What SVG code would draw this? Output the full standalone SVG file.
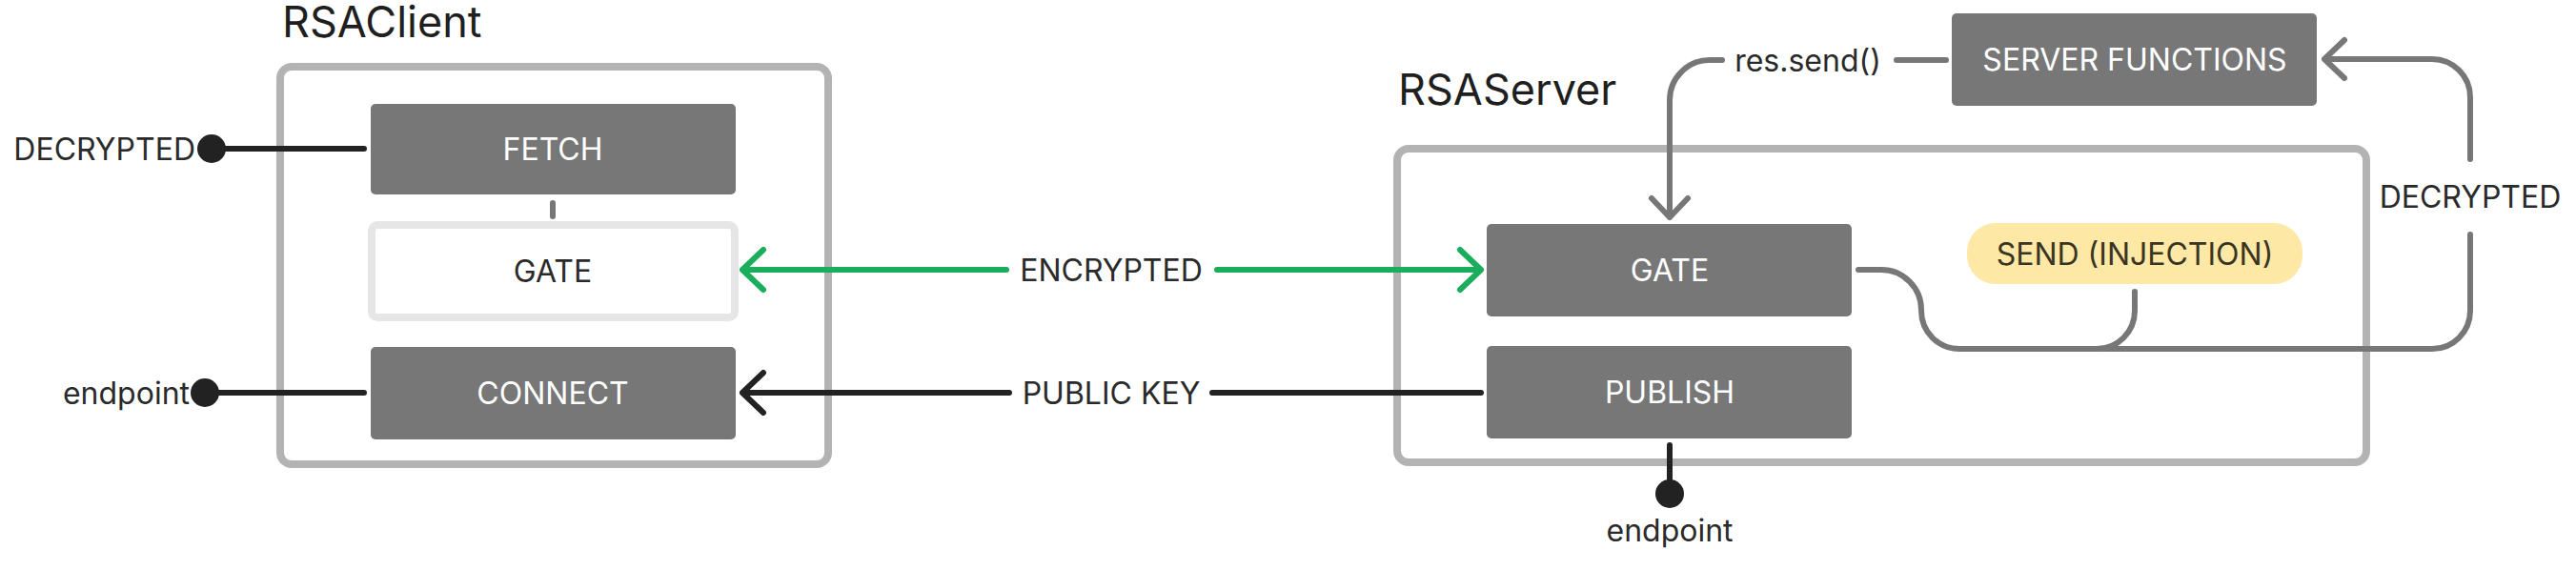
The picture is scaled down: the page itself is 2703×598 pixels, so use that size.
<svg xmlns="http://www.w3.org/2000/svg" width="2703" height="598" viewBox="0 0 2703 598">
<style>
text{font-family:Inter,"Noto Sans","Liberation Sans",sans-serif;font-size:32px;text-anchor:middle}
.title{font-size:45px;fill:#1f1f1f;text-anchor:start}
.lbl{fill:#2a2a2a}
.wt{fill:#ffffff}
.box{fill:#777777}
.cont{fill:none;stroke:#b3b3b3;stroke-width:8}
.gl{fill:none;stroke:#777777;stroke-width:6;stroke-linecap:round;stroke-linejoin:round}
.dk{fill:none;stroke:#222222;stroke-width:6;stroke-linecap:round;stroke-linejoin:round}
.gr{fill:none;stroke:#1aad5c;stroke-width:6;stroke-linecap:round;stroke-linejoin:round}
.dot{fill:#222222}
</style>
<rect width="2703" height="598" fill="#ffffff"/>
<g id="rsaclient">
<rect class="cont" x="294" y="70" width="575" height="417" rx="12"/>
<text class="title" x="296" y="39">RSAClient</text>
</g>
<g id="rsaserver">
<rect class="cont" x="1466" y="156" width="1017" height="329" rx="12"/>
<text class="title" x="1467" y="110">RSAServer</text>
</g>
<g id="fetch">
<rect class="box" x="389" y="109" width="383" height="95" rx="5"/>
<text class="wt" x="580" y="168">FETCH</text>
</g>
<g id="client-gate">
<rect x="390" y="236" width="381" height="97" rx="6" fill="#ffffff" stroke="#e6e6e6" stroke-width="8"/>
<text class="lbl" x="580" y="296">GATE</text>
</g>
<g id="connect">
<rect class="box" x="389" y="364" width="383" height="97" rx="5"/>
<text class="wt" x="580" y="424">CONNECT</text>
</g>
<g id="server-gate">
<rect class="box" x="1560" y="235" width="383" height="97" rx="5"/>
<text class="wt" x="1752" y="295">GATE</text>
</g>
<g id="publish">
<rect class="box" x="1560" y="363" width="383" height="97" rx="5"/>
<text class="wt" x="1752" y="423">PUBLISH</text>
</g>
<g id="server-functions">
<rect class="box" x="2048" y="14" width="383" height="97" rx="5"/>
<text class="wt" x="2240" y="74">SERVER FUNCTIONS</text>
</g>
<g id="send-injection">
<rect x="2064" y="234" width="352" height="64" rx="30" fill="#fde8a6"/>
<text x="2240" y="278" fill="#3a3422">SEND (INJECTION)</text>
</g>
<g id="connectors">
<path class="gl" d="M580 213 V227"/>
<path class="dk" d="M222 156 H382"/>
<circle class="dot" cx="222" cy="156" r="15"/>
<text class="lbl" x="205" y="168" style="text-anchor:end">DECRYPTED</text>
<path class="dk" d="M215 412 H382"/>
<circle class="dot" cx="215" cy="412" r="15"/>
<text class="lbl" x="199" y="424" style="text-anchor:end">endpoint</text>
<path class="gr" d="M1056 283 H779 M801 262 L779 283 L801 304"/>
<path class="gr" d="M1277 283 H1554 M1532 262 L1554 283 L1532 304"/>
<text class="lbl" x="1166" y="295">ENCRYPTED</text>
<path class="dk" d="M1059 412 H779 M801 391 L779 412 L801 433"/>
<path class="dk" d="M1272 412 H1554"/>
<text class="lbl" x="1166" y="424">PUBLIC KEY</text>
<path class="dk" d="M1752 467 V518"/>
<circle class="dot" cx="1752" cy="518" r="15"/>
<text class="lbl" x="1752" y="568">endpoint</text>
<path class="gl" d="M1990 63 H2042"/>
<path class="gl" d="M1807 63 H1794 A42 42 0 0 0 1752 105 V228 M1733 208 L1752 228 L1771 208"/>
<text class="lbl" x="1897" y="75">res.send()</text>
<path class="gl" d="M1950 283 H1974 A42 42 0 0 1 2016 325 V326 A40 40 0 0 0 2056 366 H2552 A40 40 0 0 0 2592 326 V246"/>
<path class="gl" d="M2240 306 V326 A40 40 0 0 1 2200 366"/>
<path class="gl" d="M2592 167 V102 A40 40 0 0 0 2552 62 H2439 M2460 42 L2439 62 L2460 82"/>
<text class="lbl" x="2592" y="218">DECRYPTED</text>
</g>
</svg>
